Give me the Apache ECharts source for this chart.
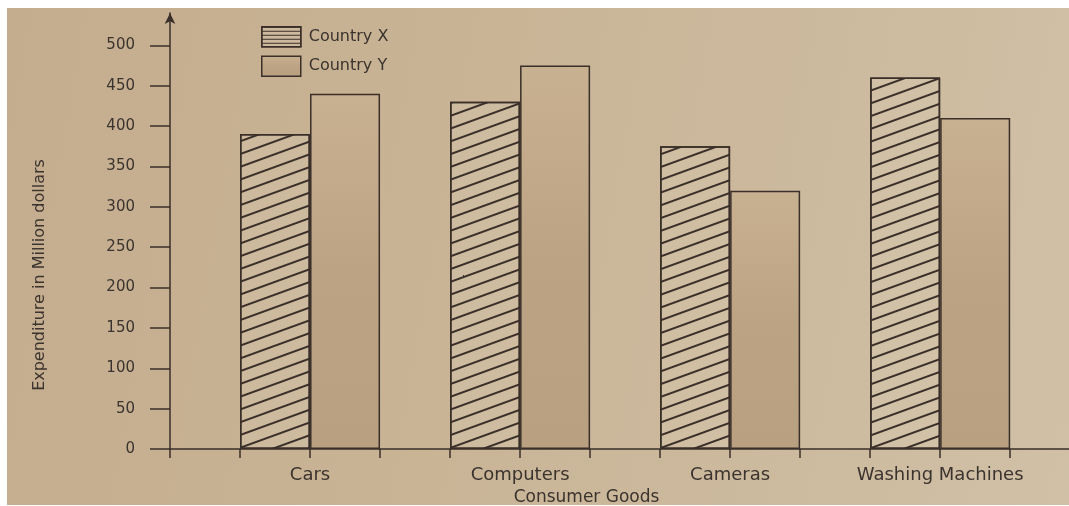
<!DOCTYPE html>
<html>
<head>
<meta charset="utf-8">
<script src="https://cdn.jsdelivr.net/npm/echarts@6/dist/echarts.min.js"></script>
<style>
  html, body { margin: 0; padding: 0; background: #ffffff; width: 1069px; height: 506px; overflow: hidden; }
  #chart {
    position: absolute; left: 7px; top: 8px; width: 1062px; height: 497px;
    background: linear-gradient(100deg, #c4ad8e 0%, #c9b496 45%, #d0c0a6 100%);
  }
</style>
</head>
<body>
<div id="chart"></div>
<script>
// Expenditure on consumer goods (million dollars)
const categories = ['Cars', 'Computers', 'Cameras', 'Washing Machines'];
const countryX = [390, 430, 375, 460];
const countryY = [440, 475, 320, 410];
const seriesNames = ['Country X', 'Country Y'];
const yTicks = [0, 50, 100, 150, 200, 250, 300, 350, 400, 450, 500];

const INK = '#3a2f29';
const TEXT = '#3b332e';
const FONT = 'DejaVu Sans';

// Each category occupies three slots on the x scale: a gap, then the two bars.
const SLOTS_PER_GROUP = 3;
const groupCenter = i => SLOTS_PER_GROUP * i + 2;
const slotCount = SLOTS_PER_GROUP * categories.length;
const xTicks = Array.from({ length: slotCount + 1 }, (_, k) => k);
const labelAt = {};
categories.forEach((c, i) => { labelAt[groupCenter(i)] = c; });

const hatch = {
  symbol: 'rect',
  symbolSize: 1,
  color: INK,
  dashArrayX: [1, 0],
  dashArrayY: [1.1, 9.2],
  rotation: -Math.PI / 9
};
const legendHatch = {
  symbol: 'rect',
  symbolSize: 1,
  color: INK,
  dashArrayX: [1, 0],
  dashArrayY: [1, 3],
  rotation: 0
};

const chart = echarts.init(document.getElementById('chart'), null, { renderer: 'canvas' });

chart.setOption({
  backgroundColor: 'transparent',
  animation: false,
  textStyle: { fontFamily: FONT, color: TEXT },
  grid: { left: 163, right: 0, top: 5, bottom: 56, containLabel: false, outerBoundsMode: 'none' },
  legend: {
    orient: 'vertical',
    left: 249,
    top: 13,
    icon: 'rect',
    itemWidth: 39,
    itemHeight: 20,
    itemGap: 8,
    textStyle: { fontFamily: FONT, fontSize: 16, color: TEXT, padding: [0, 0, 0, 3] },
    data: [
      { name: seriesNames[0], itemStyle: { color: 'rgba(214,199,174,0.4)', borderColor: INK, borderWidth: 1.5, decal: legendHatch } },
      { name: seriesNames[1], itemStyle: { borderColor: INK, borderWidth: 1.5 } }
    ]
  },
  xAxis: {
    type: 'value',
    min: 0,
    max: 12.84,
    interval: 1,
    name: 'Consumer Goods',
    nameLocation: 'middle',
    nameGap: 36,
    nameTextStyle: { fontFamily: FONT, fontSize: 17, color: TEXT, padding: [0, 66, 0, 0] },
    axisLine: { show: true, lineStyle: { color: INK, width: 1.5 } },
    axisTick: { show: true, length: 9, customValues: xTicks, lineStyle: { color: INK, width: 1.5 } },
    axisLabel: {
      margin: 17,
      fontFamily: FONT,
      fontSize: 18,
      color: TEXT,
      customValues: categories.map((c, i) => groupCenter(i)),
      formatter: v => labelAt[v] || ''
    },
    splitLine: { show: false }
  },
  yAxis: {
    type: 'value',
    min: 0,
    max: 540,
    interval: 50,
    name: 'Expenditure in Million dollars',
    nameLocation: 'middle',
    nameGap: 122,
    nameTextStyle: { fontFamily: FONT, fontSize: 16, color: TEXT, padding: [0, 88, 0, 0] },
    axisLine: { show: true, symbol: ['none', 'arrow'], symbolSize: [8, 11], lineStyle: { color: INK, width: 1.5 } },
    axisTick: { show: true, length: 20, customValues: yTicks, lineStyle: { color: INK, width: 1.5 } },
    axisLabel: {
      margin: 35,
      fontFamily: FONT,
      fontSize: 15,
      color: TEXT,
      customValues: yTicks,
      formatter: v => (v <= 500 ? String(v) : '')
    },
    splitLine: { show: false }
  },
  series: [
    {
      name: seriesNames[0],
      type: 'bar',
      barGap: '0%',
      barCategoryGap: '33.333%',
      data: countryX.map((v, i) => [groupCenter(i), v]),
      itemStyle: {
        color: 'rgba(214,199,174,0.4)',
        borderColor: INK,
        borderWidth: 1.5,
        decal: hatch
      }
    },
    {
      name: seriesNames[1],
      type: 'bar',
      barGap: '0%',
      barCategoryGap: '33.333%',
      data: countryY.map((v, i) => [groupCenter(i), v]),
      itemStyle: {
        color: new echarts.graphic.LinearGradient(0, 0, 0, 1, [
          { offset: 0, color: '#c8b191' },
          { offset: 0.5, color: '#bca383' },
          { offset: 1, color: '#b9a080' }
        ]),
        borderColor: INK,
        borderWidth: 1.5
      }
    }
  ]
});
</script>
</body>
</html>
